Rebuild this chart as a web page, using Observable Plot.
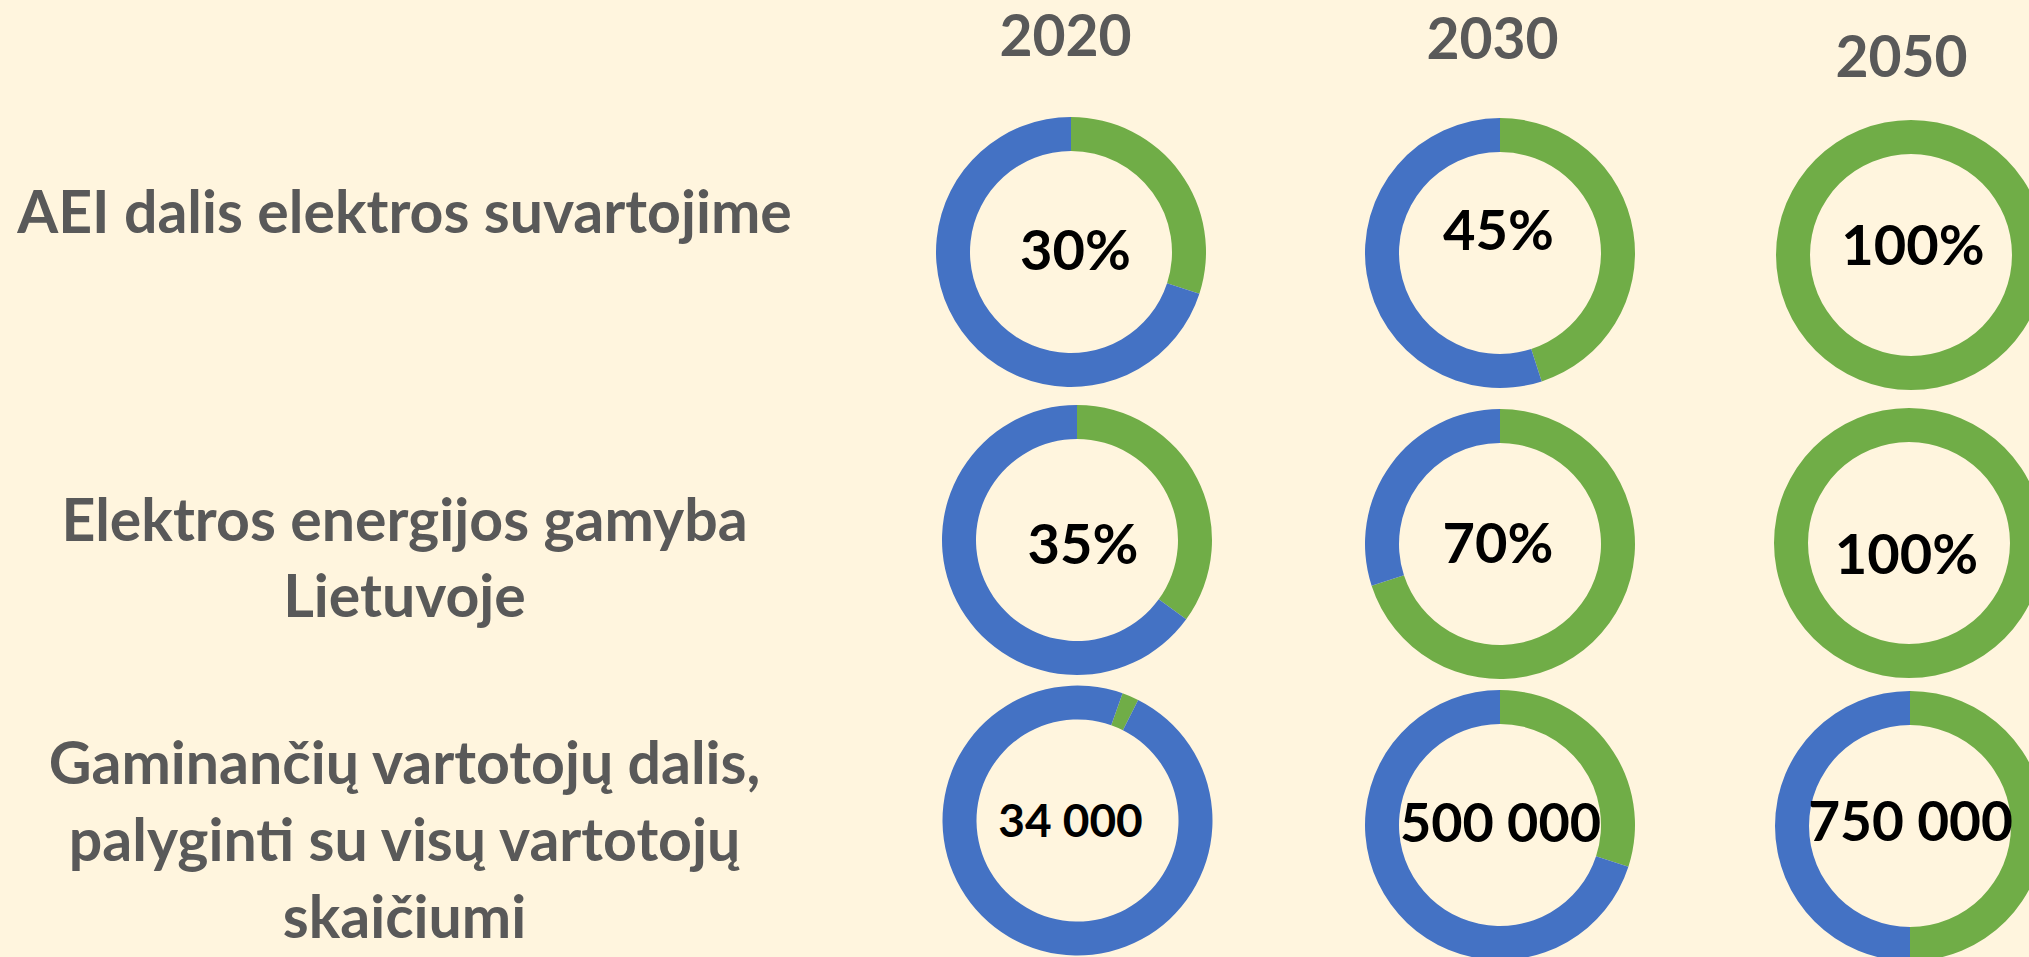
<!DOCTYPE html>
<html>
<head>
<meta charset="utf-8">
<script src="https://cdn.jsdelivr.net/npm/d3@7"></script>
<script src="https://cdn.jsdelivr.net/npm/@observablehq/plot@0.6"></script>
<style>
  html, body { margin: 0; padding: 0; background: #FFF5DE; overflow: hidden; }
  #chart svg { display: block; }
</style>
</head>
<body>
<div id="chart"></div>
<script>
// ---------------- DATA ----------------
const years = ["2020", "2030", "2050"];
const rowLabels = [
  "AEI dalis elektros suvartojime",
  "Elektros energijos gamyba\nLietuvoje",
  "Gaminančių vartotojų dalis,\npalyginti su visų vartotojų\nskaičiumi"
];
// green share of each ring, in percent
const aeiShare = [30, 45, 100];          // AEI dalis elektros suvartojime
const productionShare = [35, 70, 100];   // Elektros energijos gamyba Lietuvoje
const prosumerShare = [2, 30, 50];       // gaminančių vartotojų dalis (ring)
const prosumerCount = [34000, 500000, 750000];

// ---------------- TABLE ----------------
const fmtCount = (n) => d3.format(",")(n).replace(/,/g, " ");
const shares = [aeiShare, productionShare, prosumerShare];
const cells = [];
rowLabels.forEach((row, i) => {
  years.forEach((year, j) => {
    cells.push({
      row, year, i, j,
      share: shares[i][j],
      label: i < 2 ? shares[i][j] + "%" : fmtCount(prosumerCount[j])
    });
  });
});

// ---------------- LAYOUT / STYLE ----------------
const BLUE = "#4472C4", GREEN = "#70AD47", BG = "#FFF5DE";
const R_OUT = 135, R_IN = 101;
const ringNudge = [[[-3,-1],[8,0],[1,2]], [[3,2],[8,6],[-1,5]], [[3.5,-2.5],[8,2],[0,3]]];
const labelNudge = [[[1,-1],[6,-21],[2.5,-6]], [[8.5,8],[5.5,7],[-4,18]], [[-4,-1],[8,1],[0,0]]];
const ringRotation = [[0,0,0],[0,0,0],[19.5,0,0]]; // first-slice angle, degrees
const labelSize = [[56,56,56],[56,56,56],[46,54,55]];
const rowDy = [-45, 16, 13];
const yearNudge = [[-9, 37], [0, 40], [-9, 58]];

function donuts(index, scales) {
  const g = d3.create("svg:g");
  const arc = d3.arc().innerRadius(R_IN).outerRadius(R_OUT);
  for (const c of cells) {
    const [ndx, ndy] = ringNudge[c.i][c.j];
    const cx = scales.x(c.year) + ndx;
    const cy = scales.y(c.row) + ndy;
    let a0 = ringRotation[c.i][c.j] * Math.PI / 180;
    const parts = [{v: c.share, fill: GREEN}, {v: 100 - c.share, fill: BLUE}];
    for (const p of parts) {
      if (p.v <= 0) continue;
      const a1 = a0 + p.v / 100 * 2 * Math.PI;
      g.append("path")
        .attr("transform", `translate(${cx},${cy})`)
        .attr("d", arc({startAngle: a0, endAngle: a1}))
        .attr("fill", p.fill);
      a0 = a1;
    }
  }
  return g.node();
}

const marks = [donuts];

// values inside rings
cells.forEach((c) => {
  marks.push(Plot.text([c], {
    x: "year", y: "row", text: "label",
    dx: labelNudge[c.i][c.j][0], dy: labelNudge[c.i][c.j][1],
    fontSize: labelSize[c.i][c.j], fontWeight: "bold", fill: "#000"
  }));
});

// row labels
rowLabels.forEach((r, i) => {
  marks.push(Plot.text([r], {
    y: (d) => d, text: (d) => d, frameAnchor: "left", dx: 404, dy: rowDy[i],
    textAnchor: "middle", lineAnchor: "middle", lineHeight: 1.3,
    fontSize: 59, fontWeight: "bold", fill: "#595959"
  }));
});

// year headers
years.forEach((y, j) => {
  marks.push(Plot.text([y], {
    x: (d) => d, text: (d) => d, frameAnchor: "top", lineAnchor: "middle",
    dx: yearNudge[j][0], dy: yearNudge[j][1],
    fontSize: 57, fontWeight: "bold", fill: "#595959"
  }));
});

const chart = Plot.plot({
  width: 2029,
  height: 957,
  margin: 0,
  style: { background: BG, fontFamily: "Lato, 'Open Sans', sans-serif", overflow: "hidden" },
  x: { type: "point", domain: years, range: [1074, 1910], padding: 0, axis: null },
  y: { type: "point", domain: rowLabels, range: [253, 823], padding: 0, axis: null },
  marks
});
document.getElementById("chart").append(chart);
</script>
</body>
</html>
